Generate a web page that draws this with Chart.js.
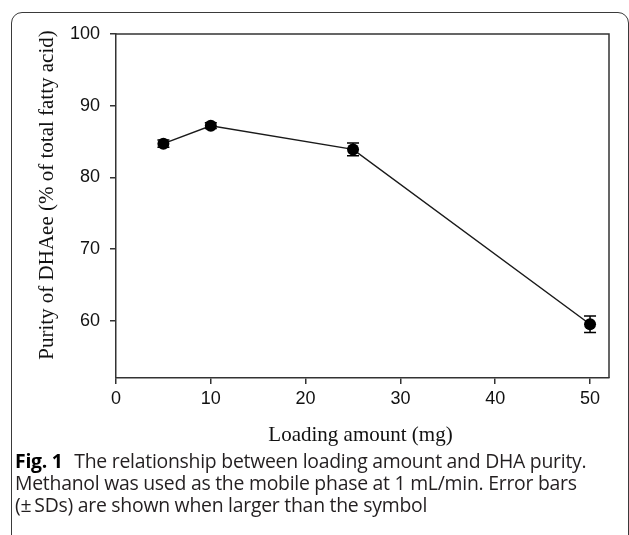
<!DOCTYPE html>
<html>
<head>
<meta charset="utf-8">
<script src="https://cdn.jsdelivr.net/npm/chart.js@4/dist/chart.umd.min.js"></script>
<style>
    html, body { margin: 0; padding: 0; background: #fff; }
    #page { position: relative; width: 629px; height: 535px; overflow: hidden; }
    #frame {
        position: absolute; left: 11px; top: 12px; width: 616px; height: 600px;
        border: 1px solid #3a3a3a; border-radius: 11px;
    }
    #chart { position: absolute; left: 0; top: 0; }
    #caption {
        position: absolute; left: 15px; top: 450px; width: 612px;
        font-family: "Open Sans", sans-serif; font-size: 19.4px; line-height: 22px;
        color: #231f20; letter-spacing: -0.25px; white-space: nowrap;
    }
    #caption b { font-weight: 700; color: #000; margin-right: 2px; }
</style>
</head>
<body>
<div id="page">
    <div id="frame"></div>
    <canvas id="chart" width="629" height="535"></canvas>
    <div id="caption"><b>Fig. 1</b>&nbsp; The relationship between loading amount and DHA purity.<br>Methanol was used as the mobile phase at 1 mL/min. Error bars<br>(±&#8201;SDs) are shown when larger than the symbol</div>
</div>
<script>
// values
const loadingMg = [5, 10, 25, 50];
const purityPct = [84.7, 87.2, 83.9, 59.5];
const puritySd = [0.5, 0.4, 0.9, 1.15];
const xTicks = [0, 10, 20, 30, 40, 50];
const yTicks = [60, 70, 80, 90, 100];
const xTitle = 'Loading amount (mg)';
const yTitle = 'Purity of DHAee (% of total fatty acid)';

const axisColor = '#333';

// error bars, plot box and serif axis titles
const decor = {
    id: 'decor',
    beforeDatasetsDraw(chart) {
        const ctx = chart.ctx;
        const xs = chart.scales.x;
        const ys = chart.scales.y;
        ctx.save();
        ctx.strokeStyle = '#000';
        ctx.lineWidth = 1.5;
        loadingMg.forEach((x, i) => {
            const px = xs.getPixelForValue(x);
            const top = ys.getPixelForValue(purityPct[i] + puritySd[i]);
            const bot = ys.getPixelForValue(purityPct[i] - puritySd[i]);
            ctx.beginPath();
            ctx.moveTo(px, top); ctx.lineTo(px, bot);
            ctx.moveTo(px - 6, top); ctx.lineTo(px + 6, top);
            ctx.moveTo(px - 6, bot); ctx.lineTo(px + 6, bot);
            ctx.stroke();
        });
        ctx.restore();
    },
    afterDraw(chart) {
        const ctx = chart.ctx;
        const a = chart.chartArea;
        ctx.save();
        ctx.strokeStyle = axisColor;
        ctx.lineWidth = 1.5;
        ctx.beginPath();
        ctx.moveTo(a.left, a.top);
        ctx.lineTo(a.right, a.top);
        ctx.lineTo(a.right, a.bottom);
        ctx.stroke();

        ctx.fillStyle = '#111';
        ctx.font = '21px "Liberation Serif", "Times New Roman", serif';
        ctx.textAlign = 'center';
        ctx.textBaseline = 'alphabetic';
        ctx.fillText(xTitle, (a.left + a.right) / 2 - 2, 441);

        ctx.translate(53, 195);
        ctx.rotate(-Math.PI / 2);
        ctx.fillText(yTitle, 0, 0);
        ctx.restore();
    }
};

new Chart(document.getElementById('chart'), {
    type: 'line',
    data: {
        datasets: [{
            data: loadingMg.map((x, i) => ({ x: x, y: purityPct[i] })),
            borderColor: '#1a1a1a',
            borderWidth: 1.5,
            pointRadius: 6,
            pointBackgroundColor: '#000',
            pointBorderWidth: 0,
            tension: 0,
            clip: false
        }]
    },
    options: {
        responsive: false,
        animation: false,
        devicePixelRatio: 1,
        layout: { padding: { left: 20, right: 20, top: 34, bottom: 85 } },
        plugins: { legend: { display: false }, tooltip: { enabled: false } },
        scales: {
            x: {
                type: 'linear',
                min: 0,
                max: 52,
                afterBuildTicks: (s) => { s.ticks = xTicks.map(v => ({ value: v })); },
                afterFit: (s) => { s.height = 72; },
                grid: { drawOnChartArea: false, tickLength: 6, color: axisColor, lineWidth: 1.5 },
                border: { color: axisColor, width: 1.5 },
                ticks: {
                    color: '#111', padding: 4, maxRotation: 0,
                    font: { family: '"Liberation Sans", Arial, sans-serif', size: 18 }
                }
            },
            y: {
                type: 'linear',
                min: 52,
                max: 100,
                afterBuildTicks: (s) => { s.ticks = yTicks.map(v => ({ value: v })); },
                afterFit: (s) => { s.width = 96; },
                grid: { drawOnChartArea: false, tickLength: 6, color: axisColor, lineWidth: 1.5 },
                border: { color: axisColor, width: 1.5 },
                ticks: {
                    color: '#111', padding: 10,
                    font: { family: '"Liberation Sans", Arial, sans-serif', size: 18 }
                }
            }
        }
    },
    plugins: [decor]
});
</script>
</body>
</html>
